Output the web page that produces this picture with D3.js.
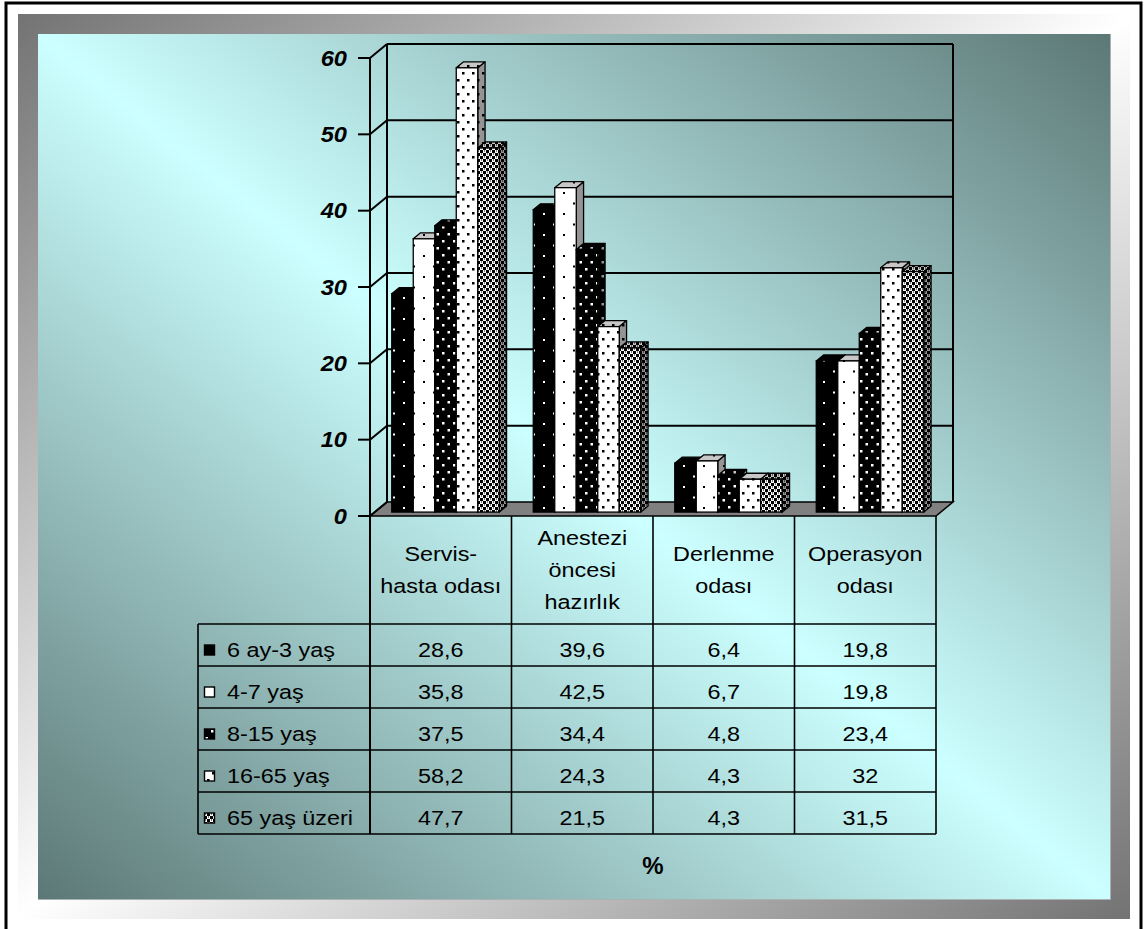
<!DOCTYPE html>
<html>
<head>
<meta charset="utf-8">
<script src="https://cdn.jsdelivr.net/npm/d3@7/dist/d3.min.js"></script>
<style>
  html, body { margin: 0; padding: 0; background: #ffffff; }
  svg { display: block; }
  text { font-family: "Liberation Sans", Arial, sans-serif; }
</style>
</head>
<body>
<svg id="chart" width="1144" height="929"></svg>
<script>
// Categories (rooms), one label line per array entry
const categories = ["Servis-hasta odası", "Anestezi öncesi hazırlık", "Derlenme odası", "Operasyon odası"];
const categoryLines = [["Servis-", "hasta odası"], ["Anestezi", "öncesi", "hazırlık"], ["Derlenme", "odası"], ["Operasyon", "odası"]];

// Age groups
const series = ["6 ay-3 yaş", "4-7 yaş", "8-15 yaş", "16-65 yaş", "65 yaş üzeri"];

// Percentages per age group, in category order
const ageGroup0 = [28.6, 39.6, 6.4, 19.8];
const ageGroup1 = [35.8, 42.5, 6.7, 19.8];
const ageGroup2 = [37.5, 34.4, 4.8, 23.4];
const ageGroup3 = [58.2, 24.3, 4.3, 32];
const ageGroup4 = [47.7, 21.5, 4.3, 31.5];
const seriesValues = [ageGroup0, ageGroup1, ageGroup2, ageGroup3, ageGroup4];

const yTicks = [0, 10, 20, 30, 40, 50, 60];
const unitLabel = "%";

const svg = d3.select("#chart");
const defs = svg.append("defs");

// ---------- background ----------
const frameGrad = defs.append("linearGradient").attr("id", "frameGrad")
  .attr("x1", 0).attr("y1", 0).attr("x2", 1).attr("y2", 1);
frameGrad.append("stop").attr("offset", 0).attr("stop-color", "#737373");
frameGrad.append("stop").attr("offset", 0.5).attr("stop-color", "#ffffff");
frameGrad.append("stop").attr("offset", 1).attr("stop-color", "#737373");

const panelGrad = defs.append("linearGradient").attr("id", "panelGrad")
  .attr("x1", 0).attr("y1", 1).attr("x2", 1).attr("y2", 0);
panelGrad.append("stop").attr("offset", 0).attr("stop-color", "#5c7876");
panelGrad.append("stop").attr("offset", 0.5).attr("stop-color", "#ccffff");
panelGrad.append("stop").attr("offset", 1).attr("stop-color", "#5c7876");

svg.append("rect").attr("x", 6).attr("y", 3).attr("width", 1135).attr("height", 960)
  .attr("fill", "#ffffff").attr("stroke", "#000").attr("stroke-width", 3);
svg.append("rect").attr("x", 18).attr("y", 14).attr("width", 1112).attr("height", 905)
  .attr("fill", "url(#frameGrad)");
svg.append("rect").attr("x", 38).attr("y", 34).attr("width", 1072).attr("height", 865)
  .attr("fill", "url(#panelGrad)");
svg.append("path").attr("d", "M38,899.5H1110.5V34").attr("fill", "none")
  .attr("stroke", "#a9b3b3").attr("stroke-width", 1);

// ---------- fill patterns ----------
function makePattern(id, w, h, bg, fg, dots) {
  const p = defs.append("pattern").attr("id", id).attr("patternUnits", "userSpaceOnUse")
    .attr("width", w).attr("height", h);
  p.append("rect").attr("width", w).attr("height", h).attr("fill", bg);
  dots.forEach(d => p.append("rect").attr("x", d[0]).attr("y", d[1])
    .attr("width", d[2]).attr("height", d[3]).attr("fill", fg));
}
makePattern("pat0", 20, 21, "#000", "#fff", [[3, 3, 2, 2], [13, 13.5, 2, 2]]);
makePattern("pat1", 20, 21, "#fff", "#000", [[3, 3, 2, 2], [13, 13.5, 2, 2]]);
makePattern("pat2", 11, 14, "#000", "#fff", [[2, 2, 2.5, 2.5], [7.5, 9, 2.5, 2.5]]);
makePattern("pat3", 10, 14, "#fff", "#000", [[2, 2, 2.5, 2.5], [7, 9, 2.5, 2.5]]);
makePattern("pat4", 6, 6, "#fff", "#000", [[0, 0, 3, 3], [3, 3, 3, 3], [1, 3.5, 1, 1], [4, 0.5, 1, 1]]);
const patternIds = ["pat0", "pat1", "pat2", "pat3", "pat4"];

// ---------- scales & 3D projection ----------
const y = d3.scaleLinear().domain([0, 60]).range([516, 58]);
const x0 = d3.scaleBand().domain(categories).range([370, 936]);
const x1 = d3.scaleBand().domain(series).range([17, x0.bandwidth() - 17]);
const DX = 17, DY = 14;          // full floor depth offset
const D0 = 0.28, D1 = 0.71;      // bar front / back depth
const proj = (xf, yf, d) => [xf + d * DX, yf - d * DY];
const poly = pts => "M" + pts.map(p => p.join(",")).join("L") + "Z";

const xLeft = x0.range()[0], xRight = x0.range()[1];

// floor
svg.append("path")
  .attr("d", poly([proj(xLeft, y(0), 0), proj(xRight, y(0), 0), proj(xRight, y(0), 1), proj(xLeft, y(0), 1)]))
  .attr("fill", "#808080").attr("stroke", "#000").attr("stroke-width", 1.5);

// walls & gridlines
const grid = svg.append("g").attr("stroke", "#000").attr("stroke-width", 2).attr("fill", "none");
yTicks.forEach(t => {
  const a = proj(xLeft, y(t), 0), b = proj(xLeft, y(t), 1), c = proj(xRight, y(t), 1);
  if (t > 0) grid.append("path").attr("d", `M${b}L${c}`);
  grid.append("path").attr("d", `M${a}L${b}`);
  grid.append("path").attr("d", `M${a[0] - 12},${a[1]}L${a[0]},${a[1]}`);
});
grid.append("path").attr("d", `M${proj(xLeft, y(60), 1)}L${proj(xLeft, y(0), 1)}`);
grid.append("path").attr("d", `M${proj(xRight, y(60), 1)}L${proj(xRight, y(0), 1)}`);
grid.append("path").attr("d", `M${proj(xLeft, y(60), 0)}L${xLeft},834`);

// text helper with the slightly wide lettering used throughout
function stretchedText(g, x, yy, str, opts) {
  return g.append("text")
    .attr("transform", `translate(${x},${yy}) scale(${opts.sx || 1.2},1)`)
    .attr("text-anchor", opts.anchor || "middle")
    .attr("font-size", opts.size || 19.5)
    .attr("font-weight", opts.weight || "normal")
    .attr("font-style", opts.style || "normal")
    .attr("fill", "#000")
    .text(str);
}
const axisG = svg.append("g");
yTicks.forEach(t => {
  stretchedText(axisG, 347, y(t) + 7.5, String(t), { sx: 1.1, anchor: "end", size: 21.5, weight: "bold", style: "italic" });
});

// ---------- 3D bars ----------
const barsG = svg.append("g");
const bw = x1.bandwidth();
categories.forEach((cat, ci) => {
  series.forEach((s, si) => {
    const v = seriesValues[si][ci];
    const L = x0(cat) + x1(s), R = L + bw;
    const yt = y(v), yb = y(0);
    const g = barsG.append("g");
    const side = [proj(R, yt, D0), proj(R, yb, D0), proj(R, yb, D1), proj(R, yt, D1)];
    const top = [proj(L, yt, D0), proj(R, yt, D0), proj(R, yt, D1), proj(L, yt, D1)];
    const f0 = proj(L, yt, D0), f1 = proj(R, yb, D0);
    g.append("path").attr("d", poly(side)).attr("fill", `url(#${patternIds[si]})`);
    g.append("path").attr("d", poly(side)).attr("fill", "#000").attr("fill-opacity", 0.42)
      .attr("stroke", "#000").attr("stroke-width", 1.3).attr("stroke-linejoin", "round");
    g.append("path").attr("d", poly(top)).attr("fill", `url(#${patternIds[si]})`);
    g.append("path").attr("d", poly(top)).attr("fill", "#000").attr("fill-opacity", 0.22)
      .attr("stroke", "#000").attr("stroke-width", 1.3).attr("stroke-linejoin", "round");
    g.append("rect").attr("x", f0[0]).attr("y", f0[1])
      .attr("width", f1[0] - f0[0]).attr("height", f1[1] - f0[1])
      .attr("fill", `url(#${patternIds[si]})`)
      .attr("stroke", "#000").attr("stroke-width", 1.3);
  });
});

// ---------- data table ----------
const tableG = svg.append("g");
const headerTop = y(0), rowTop = 624, rowH = 42, legendLeft = 198;
const tableBottom = rowTop + rowH * series.length;
const lines = tableG.append("g").attr("stroke", "#000").attr("stroke-width", 1.6);
categories.forEach(cat => {
  lines.append("line").attr("x1", x0(cat) + x0.bandwidth()).attr("x2", x0(cat) + x0.bandwidth())
    .attr("y1", headerTop).attr("y2", tableBottom);
});
lines.append("line").attr("x1", legendLeft).attr("x2", legendLeft).attr("y1", rowTop).attr("y2", tableBottom);
d3.range(series.length + 1).forEach(i => {
  lines.append("line").attr("x1", legendLeft).attr("x2", xRight)
    .attr("y1", rowTop + i * rowH).attr("y2", rowTop + i * rowH);
});

// category headers
categories.forEach((cat, ci) => {
  const ls = categoryLines[ci];
  const cx = x0(cat) + x0.bandwidth() / 2;
  const lh = 32, mid = 570;
  ls.forEach((ln, li) => {
    const cy = mid + (li - (ls.length - 1) / 2) * lh;
    stretchedText(tableG, cx, cy + 7, ln, {});
  });
});

// legend rows and values
const fmt = v => String(v).replace(".", ",");
series.forEach((s, si) => {
  const top = rowTop + si * rowH;
  tableG.append("rect").attr("x", 204.5).attr("y", top + 21).attr("width", 10).attr("height", 10)
    .attr("fill", `url(#${patternIds[si]})`).attr("stroke", "#000").attr("stroke-width", 1.4);
  stretchedText(tableG, 227, top + 33, s, { anchor: "start" });
  categories.forEach((cat, ci) => {
    stretchedText(tableG, x0(cat) + x0.bandwidth() / 2, top + 33, fmt(seriesValues[si][ci]), {});
  });
});

// unit label
stretchedText(svg, 653, 874, unitLabel, { sx: 1.0, size: 24, weight: "bold" });
</script>
</body>
</html>
